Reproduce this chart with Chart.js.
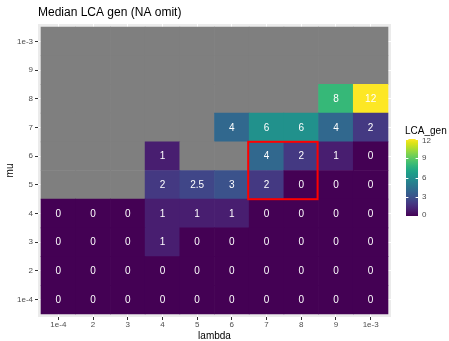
<!DOCTYPE html>
<html>
<head>
<meta charset="utf-8">
<script src="https://cdn.jsdelivr.net/npm/chart.js@4/dist/chart.umd.min.js"></script>
<style>
  html, body { margin: 0; padding: 0; background: #ffffff; }
  #wrap { width: 449px; height: 341px; }
</style>
</head>
<body>
<div id="wrap"><canvas id="c" width="449" height="341"></canvas></div>
<script>
// ---- data ----
const lambdaLabels = ['1e-4', '2', '3', '4', '5', '6', '7', '8', '9', '1e-3'];
const muLabels = ['1e-4', '2', '3', '4', '5', '6', '7', '8', '9', '1e-3'];
// median LCA_gen per mu row (columns follow lambdaLabels); null = NA
const mu_1e4 = [0, 0, 0, 0, 0, 0, 0, 0, 0, 0];
const mu_2   = [0, 0, 0, 0, 0, 0, 0, 0, 0, 0];
const mu_3   = [0, 0, 0, 1, 0, 0, 0, 0, 0, 0];
const mu_4   = [0, 0, 0, 1, 1, 1, 0, 0, 0, 0];
const mu_5   = [null, null, null, 2, 2.5, 3, 2, 0, 0, 0];
const mu_6   = [null, null, null, 1, null, null, 4, 2, 1, 0];
const mu_7   = [null, null, null, null, null, 4, 6, 6, 4, 2];
const mu_8   = [null, null, null, null, null, null, null, null, 8, 12];
const mu_9   = [null, null, null, null, null, null, null, null, null, null];
const mu_1e3 = [null, null, null, null, null, null, null, null, null, null];
const lcaGenRows = [mu_1e4, mu_2, mu_3, mu_4, mu_5, mu_6, mu_7, mu_8, mu_9, mu_1e3];
const legendTicks = [0, 3, 6, 9, 12];
const fillLimits = [0, 12];
const highlightLambda = ['7', '8'];
const highlightMu = ['5', '6'];

// ---- styling helpers ----
const FONT = "'Liberation Sans', Arial, Helvetica, sans-serif";
const NA_COLOR = '#7F7F7F';
const viridisStops = ['#440154','#471365','#482475','#463480','#414487','#3B528B','#355F8D','#2F6C8E','#2A788E','#25848E','#21918C','#1E9C89','#22A884','#2FB47C','#44BF70','#5EC962','#7AD151','#9BD93C','#BDDF26','#DFE318','#FDE725'];
function hexToRgb(h) { return [parseInt(h.slice(1,3),16), parseInt(h.slice(3,5),16), parseInt(h.slice(5,7),16)]; }
function viridis(t) {
  t = Math.max(0, Math.min(1, t));
  const n = viridisStops.length - 1;
  const p = t * n, i = Math.min(Math.floor(p), n - 1), f = p - i;
  const a = hexToRgb(viridisStops[i]), b = hexToRgb(viridisStops[i + 1]);
  const c = a.map((v, k) => Math.round(v + (b[k] - v) * f));
  return 'rgb(' + c.join(',') + ')';
}
function fillFor(v) {
  if (v === null || v === undefined) return NA_COLOR;
  return viridis((v - fillLimits[0]) / (fillLimits[1] - fillLimits[0]));
}

const datasets = lcaGenRows.map((row, r) => ({
  label: 'mu ' + muLabels[r],
  data: row.map((v, i) => ({ x: i, y: [r - 0.5, r + 0.5], v: v })),
  backgroundColor: row.map(v => fillFor(v)),
  borderWidth: 0,
  barPercentage: 1,
  categoryPercentage: 1,
  grouped: false
}));

const xPad = 0.087, yPad = 0.105;

const panelPlugin = {
  id: 'panel',
  beforeDraw(chart) {
    const { ctx, chartArea: a } = chart;
    ctx.save();
    ctx.fillStyle = '#EBEBEB';
    ctx.fillRect(a.left, a.top, a.right - a.left, a.bottom - a.top);
    ctx.restore();
  },
  afterDatasetsDraw(chart) {
    const { ctx } = chart;
    ctx.save();
    ctx.font = '10px ' + FONT;
    ctx.fillStyle = '#FFFFFF';
    ctx.textAlign = 'center';
    ctx.textBaseline = 'middle';
    chart.data.datasets.forEach((ds, di) => {
      const meta = chart.getDatasetMeta(di);
      meta.data.forEach((el, i) => {
        const v = ds.data[i].v;
        if (v === null || v === undefined) return;
        ctx.fillText(String(v), el.x, (el.y + el.base) / 2 + 0.5);
      });
    });
    // highlight rectangle
    const xs = chart.scales.x, ys = chart.scales.y;
    const xi = highlightLambda.map(l => lambdaLabels.indexOf(l));
    const yi = highlightMu.map(m => muLabels.indexOf(m));
    const x0 = xs.getPixelForValue(Math.min(...xi) - 0.5);
    const x1 = xs.getPixelForValue(Math.max(...xi) + 0.5);
    const y0 = ys.getPixelForValue(Math.max(...yi) + 0.5);
    const y1 = ys.getPixelForValue(Math.min(...yi) - 0.5);
    ctx.strokeStyle = '#FF0000';
    ctx.lineWidth = 2;
    ctx.strokeRect(x0 - 1, y0, x1 - x0, y1 - y0);
    ctx.restore();
  },
  afterDraw(chart) {
    const { ctx } = chart;
    ctx.save();
    // legend title
    ctx.fillStyle = '#000000';
    ctx.font = '10px ' + FONT;
    ctx.textAlign = 'left';
    ctx.textBaseline = 'alphabetic';
    ctx.fillText('LCA_gen', 405, 134);
    // color bar
    const bx = 406, bw = 12, top = 139, bottom = 216;
    const g = ctx.createLinearGradient(0, bottom, 0, top);
    for (let k = 0; k <= 40; k++) g.addColorStop(k / 40, viridis(k / 40));
    ctx.fillStyle = g;
    ctx.fillRect(bx, top, bw, bottom - top);
    // ticks and labels
    ctx.font = '8px ' + FONT;
    ctx.textBaseline = 'middle';
    legendTicks.forEach(t => {
      const y = bottom - (t - fillLimits[0]) / (fillLimits[1] - fillLimits[0]) * (bottom - top);
      const yy = Math.round(y) + 0.5;
      ctx.strokeStyle = '#FFFFFF';
      ctx.lineWidth = 1;
      ctx.beginPath();
      ctx.moveTo(bx, yy); ctx.lineTo(bx + 2.4, yy);
      ctx.moveTo(bx + bw - 2.4, yy); ctx.lineTo(bx + bw, yy);
      ctx.stroke();
      ctx.fillStyle = '#4D4D4D';
      ctx.fillText(String(t), 422, Math.min(Math.max(y, top + 2), bottom - 1));
    });
    ctx.restore();
  }
};

Chart.defaults.font.family = FONT;

new Chart(document.getElementById('c'), {
  type: 'bar',
  data: { datasets },
  options: {
    responsive: false,
    animation: false,
    events: [],
    layout: { padding: { left: 0, right: 58, top: 0, bottom: 0 } },
    plugins: {
      legend: { display: false },
      tooltip: { enabled: false },
      title: {
        display: true,
        text: 'Median LCA gen (NA omit)',
        align: 'start',
        fullSize: false,
        color: '#000000',
        font: { size: 12, weight: 'normal', family: FONT },
        padding: { top: 5, bottom: 4.6 }
      }
    },
    scales: {
      x: {
        type: 'linear',
        offset: false,
        min: -0.5 - xPad,
        max: lambdaLabels.length - 0.5 + xPad,
        afterBuildTicks: s => { s.ticks = lambdaLabels.map((_, i) => ({ value: i })); },
        afterFit: s => { s.height = 24; },
        ticks: {
          autoSkip: false, maxRotation: 0, minRotation: 0,
          padding: 0,
          color: '#4D4D4D',
          font: { size: 8, family: FONT },
          callback: v => lambdaLabels[v]
        },
        grid: { offset: false, color: '#FFFFFF', lineWidth: 1, tickColor: '#333333', tickLength: 3, drawTicks: true },
        border: { display: false },
        title: { display: true, text: 'lambda', color: '#000000', font: { size: 10, family: FONT, lineHeight: 1 }, padding: { top: 0, bottom: 0 } }
      },
      y: {
        type: 'linear',
        min: -0.5 - yPad,
        max: muLabels.length - 0.5 + yPad,
        afterBuildTicks: s => { s.ticks = muLabels.map((_, i) => ({ value: i })); },
        afterFit: s => { s.width = 38; },
        ticks: {
          autoSkip: false,
          padding: 2,
          color: '#4D4D4D',
          font: { size: 8, family: FONT },
          callback: v => muLabels[v]
        },
        grid: { color: '#FFFFFF', lineWidth: 1, tickColor: '#333333', tickLength: 3, drawTicks: true },
        border: { display: false },
        title: { display: true, text: 'mu', color: '#000000', font: { size: 10, family: FONT, lineHeight: 1.2 }, padding: { top: 4, bottom: 0 } }
      }
    }
  },
  plugins: [panelPlugin]
});
</script>
</body>
</html>
